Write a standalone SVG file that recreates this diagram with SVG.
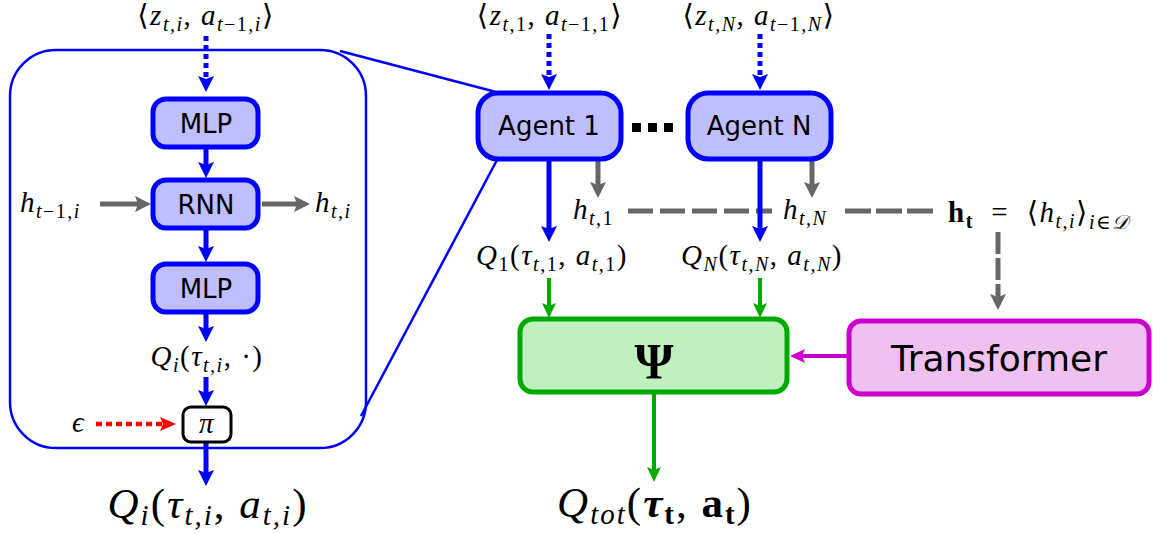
<svg xmlns="http://www.w3.org/2000/svg" width="1166" height="534" viewBox="0 0 1166 534">
<defs>
<style>
.box{fill:#bfbfff;stroke:#0000ff;stroke-width:5}
.lbl{font-family:"DejaVu Sans",Verdana,sans-serif;fill:#000;text-anchor:middle}
.m{font-family:"Liberation Serif","DejaVu Serif",serif;font-size:29px;fill:#000;letter-spacing:1.5px}
.it{font-style:italic}
.s{font-size:20px}
.big{font-size:43px;letter-spacing:2px}
.sb{font-size:29px}
.bl{stroke:#0000ff;stroke-width:5;fill:none}
.gr{stroke:#666;stroke-width:5;fill:none}
.gn{stroke:#00aa00;stroke-width:4;fill:none}
</style>
<marker id="ab" markerUnits="userSpaceOnUse" viewBox="-2 -10 22 20" markerWidth="22" markerHeight="20" refX="3" refY="0" orient="auto"><path d="M0,-8 L16,0 L0,8 L3,0 z" fill="#0000ff"/></marker>
<marker id="ag" markerUnits="userSpaceOnUse" viewBox="-2 -10 22 20" markerWidth="22" markerHeight="20" refX="3" refY="0" orient="auto"><path d="M0,-8 L16,0 L0,8 L3,0 z" fill="#666"/></marker>
<marker id="an" markerUnits="userSpaceOnUse" viewBox="-2 -10 22 20" markerWidth="22" markerHeight="20" refX="3" refY="0" orient="auto"><path d="M0,-7 L15,0 L0,7 L3,0 z" fill="#00aa00"/></marker>
<marker id="ar" markerUnits="userSpaceOnUse" viewBox="-2 -10 22 20" markerWidth="22" markerHeight="20" refX="3" refY="0" orient="auto"><path d="M0,-7 L16,0 L0,7 L3,0 z" fill="#ff0000"/></marker>
<marker id="am" markerUnits="userSpaceOnUse" viewBox="-2 -10 22 20" markerWidth="22" markerHeight="20" refX="3" refY="0" orient="auto"><path d="M0,-7 L15,0 L0,7 L3,0 z" fill="#cc00cc"/></marker>
</defs>
<rect width="1166" height="534" fill="#fff"/>

<g id="agent-detail">
<rect x="10" y="50" width="356" height="398" rx="46" ry="46" fill="none" stroke="#0000ff" stroke-width="2.5"/>
</g>

<g id="connectors">
<line x1="340" y1="51" x2="496" y2="92" stroke="#0000ff" stroke-width="2.5"/>
<line x1="361" y1="416" x2="497" y2="160" stroke="#0000ff" stroke-width="2.5"/>
<line class="bl" x1="206" y1="36" x2="206" y2="79" stroke-dasharray="5,4" marker-end="url(#ab)"/>
<line class="bl" x1="206" y1="149" x2="206" y2="165" marker-end="url(#ab)"/>
<line class="bl" x1="206" y1="229" x2="206" y2="249" marker-end="url(#ab)"/>
<line class="bl" x1="206" y1="314" x2="206" y2="329" marker-end="url(#ab)"/>
<line class="bl" x1="206" y1="377" x2="206" y2="393" marker-end="url(#ab)"/>
<line class="bl" x1="206" y1="443" x2="206" y2="473" marker-end="url(#ab)"/>
<line class="gr" x1="100" y1="204" x2="138" y2="204" stroke-width="4" marker-end="url(#ag)"/>
<line class="gr" x1="262" y1="204" x2="297" y2="204" stroke-width="4" marker-end="url(#ag)"/>
<line x1="96" y1="424" x2="163" y2="424" stroke="#ff0000" stroke-width="4.5" stroke-dasharray="6,4" marker-end="url(#ar)"/>
<line class="bl" x1="549" y1="34" x2="549" y2="77" stroke-dasharray="5,4" marker-end="url(#ab)"/>
<line class="bl" x1="760" y1="34" x2="760" y2="77" stroke-dasharray="5,4" marker-end="url(#ab)"/>
<line class="gr" x1="628" y1="211" x2="772" y2="211" stroke-width="6" stroke-dasharray="25,7"/>
<line class="gr" x1="845" y1="211" x2="934" y2="211" stroke-width="6" stroke-dasharray="26,5"/>
<line class="bl" x1="549" y1="160" x2="549" y2="229" marker-end="url(#ab)"/>
<line class="bl" x1="760" y1="160" x2="760" y2="229" marker-end="url(#ab)"/>
<line class="gr" x1="598" y1="157" x2="598" y2="185" stroke-width="4" marker-end="url(#ag)"/>
<line class="gr" x1="812" y1="157" x2="812" y2="185" stroke-width="4" marker-end="url(#ag)"/>
<line class="gr" x1="998" y1="232" x2="998" y2="297" stroke-width="6" stroke-dasharray="22,4" marker-end="url(#ag)"/>
<line class="gn" x1="549" y1="278" x2="549" y2="306" marker-end="url(#an)"/>
<line class="gn" x1="760" y1="278" x2="760" y2="306" marker-end="url(#an)"/>
<line class="gn" x1="654" y1="393" x2="654" y2="470" marker-end="url(#an)"/>
<line x1="848" y1="356" x2="802" y2="356" stroke="#cc00cc" stroke-width="4" marker-end="url(#am)"/>
</g>

<g id="mlp1"><rect class="box" x="153" y="99" width="105" height="48" rx="13"/><text class="lbl" x="206" y="133" font-size="26">MLP</text></g>
<g id="rnn"><rect class="box" x="153" y="180" width="105" height="48" rx="13"/><text class="lbl" x="206" y="214" font-size="26">RNN</text></g>
<g id="mlp2"><rect class="box" x="153" y="264" width="105" height="48" rx="13"/><text class="lbl" x="206" y="298" font-size="26">MLP</text></g>
<g id="pi"><rect x="183" y="407" width="48" height="35" rx="8" fill="#fff" stroke="#000" stroke-width="3"/><text class="m it" x="207" y="433" text-anchor="middle" font-size="32" letter-spacing="0">π</text></g>

<g id="agent1"><rect class="box" x="478" y="93" width="143" height="66" rx="20"/><text class="lbl" x="549" y="135" font-size="26">Agent 1</text></g>
<g id="dots"><rect x="632" y="123" width="9" height="9"/><rect x="648" y="123" width="9" height="9"/><rect x="664" y="123" width="9" height="9"/></g>
<g id="agentN"><rect class="box" x="688" y="93" width="143" height="66" rx="20"/><text class="lbl" x="759" y="135" font-size="26">Agent N</text></g>

<g id="psi"><rect x="520" y="319" width="267" height="73" rx="13" fill="#c0f0c0" stroke="#00aa00" stroke-width="5"/><text x="654" y="378" text-anchor="middle" font-family="Liberation Serif,DejaVu Serif,serif" font-weight="bold" font-size="50">Ψ</text></g>
<g id="transformer"><rect x="849" y="321" width="300" height="73" rx="12" fill="#f0c0f0" stroke="#cc00cc" stroke-width="5"/><text class="lbl" x="999" y="371" font-size="36">Transformer</text></g>

<g id="labels">
<text class="m" x="206" y="25" text-anchor="middle">⟨<tspan class="it">z</tspan><tspan class="s it" dy="6">t,i</tspan><tspan dy="-6">, </tspan><tspan class="it">a</tspan><tspan class="s" dy="6"><tspan class="it">t</tspan>−1,<tspan class="it">i</tspan></tspan><tspan dy="-6">⟩</tspan></text>
<text class="m" x="550" y="25" text-anchor="middle">⟨<tspan class="it">z</tspan><tspan class="s" dy="6"><tspan class="it">t</tspan>,1</tspan><tspan dy="-6">, </tspan><tspan class="it">a</tspan><tspan class="s" dy="6"><tspan class="it">t</tspan>−1,1</tspan><tspan dy="-6">⟩</tspan></text>
<text class="m" x="759" y="25" text-anchor="middle">⟨<tspan class="it">z</tspan><tspan class="s it" dy="6">t,N</tspan><tspan dy="-6">, </tspan><tspan class="it">a</tspan><tspan class="s" dy="6"><tspan class="it">t</tspan>−1,<tspan class="it">N</tspan></tspan><tspan dy="-6">⟩</tspan></text>
<text class="m" x="20" y="212"><tspan class="it">h</tspan><tspan class="s" dy="6"><tspan class="it">t</tspan>−1,<tspan class="it">i</tspan></tspan></text>
<text class="m it" x="315" y="212">h<tspan class="s" dy="6">t,i</tspan></text>
<text class="m" x="207" y="366" text-anchor="middle"><tspan class="it">Q</tspan><tspan class="s it" dy="6">i</tspan><tspan dy="-6">(</tspan><tspan class="it">τ</tspan><tspan class="s it" dy="6">t,i</tspan><tspan dy="-6">, ·)</tspan></text>
<text class="m it" x="72" y="432" font-size="30">ϵ</text>
<text class="m big" x="208" y="518" text-anchor="middle"><tspan class="it">Q</tspan><tspan class="sb it" dy="7">i</tspan><tspan dy="-7">(</tspan><tspan class="it">τ</tspan><tspan class="sb it" dy="7">t,i</tspan><tspan dy="-7">, </tspan><tspan class="it">a</tspan><tspan class="sb it" dy="7">t,i</tspan><tspan dy="-7">)</tspan></text>
<text class="m" x="573" y="219"><tspan class="it">h</tspan><tspan class="s" dy="6"><tspan class="it">t</tspan>,1</tspan></text>
<text class="m" x="783" y="219"><tspan class="it">h</tspan><tspan class="s it" dy="6">t,N</tspan></text>
<text class="m" x="552" y="265" text-anchor="middle"><tspan class="it">Q</tspan><tspan class="s" dy="6">1</tspan><tspan dy="-6">(</tspan><tspan class="it">τ</tspan><tspan class="s" dy="6"><tspan class="it">t</tspan>,1</tspan><tspan dy="-6">, </tspan><tspan class="it">a</tspan><tspan class="s" dy="6"><tspan class="it">t</tspan>,1</tspan><tspan dy="-6">)</tspan></text>
<text class="m" x="762" y="265" text-anchor="middle"><tspan class="it">Q</tspan><tspan class="s it" dy="6">N</tspan><tspan dy="-6">(</tspan><tspan class="it">τ</tspan><tspan class="s it" dy="6">t,N</tspan><tspan dy="-6">, </tspan><tspan class="it">a</tspan><tspan class="s it" dy="6">t,N</tspan><tspan dy="-6">)</tspan></text>
<text class="m" x="948" y="222" font-size="32" letter-spacing="2"><tspan font-weight="bold">h</tspan><tspan class="s" font-weight="bold" dy="6">t</tspan><tspan dy="-6" xml:space="preserve">  =  ⟨</tspan><tspan class="it">h</tspan><tspan class="s it" dy="6">t,i</tspan><tspan dy="-6">⟩</tspan><tspan class="s" dy="7"><tspan class="it">i</tspan>∈<tspan class="it">𝒟</tspan></tspan></text>
<text class="m big" x="655" y="517" text-anchor="middle" letter-spacing="3"><tspan class="it">Q</tspan><tspan class="sb it" dy="7">tot</tspan><tspan dy="-7">(</tspan><tspan class="it" font-weight="bold">τ</tspan><tspan class="sb" font-weight="bold" dy="7">t</tspan><tspan dy="-7">, </tspan><tspan font-weight="bold">a</tspan><tspan class="sb" font-weight="bold" dy="7">t</tspan><tspan dy="-7">)</tspan></text>
</g>
</svg>
